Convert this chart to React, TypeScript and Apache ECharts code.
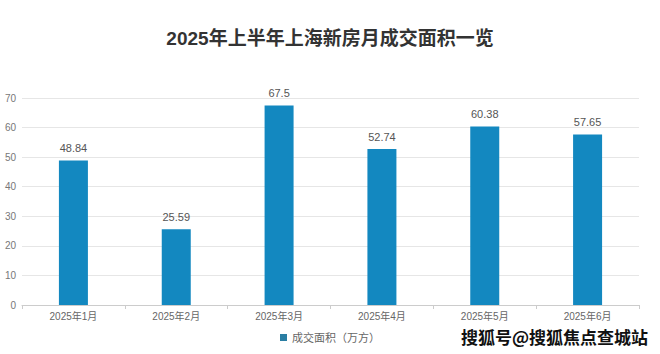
import React, { useEffect, useRef } from "react";
import * as echarts from "echarts";

const categories = ["2025年1月", "2025年2月", "2025年3月", "2025年4月", "2025年5月", "2025年6月"];
const seriesName = "成交面积（万方）";
const values = [48.84, 25.59, 67.5, 52.74, 60.38, 57.65];
const titleText = "2025年上半年上海新房月成交面积一览";
const watermark = "搜狐号@搜狐焦点查城站";

const labelFont = "'Liberation Sans', 'Noto Sans CJK SC', sans-serif";

export default function App() {
  const ref = useRef<HTMLDivElement>(null);
  useEffect(() => {
    if (!ref.current) return;
    const chart = echarts.init(ref.current, null, { renderer: "svg" });
    chart.setOption({
      animation: false,
      backgroundColor: "#ffffff",
      textStyle: { fontFamily: "'Noto Sans CJK SC', 'Noto Sans', sans-serif" },
      title: {
        text: titleText,
        left: "center",
        top: 24,
        textStyle: {
          fontSize: 19,
          fontWeight: "bold",
          color: "#333333",
          fontFamily: "'Liberation Sans', 'Noto Sans CJK SC', sans-serif",
        },
      },
      grid: { left: 22, right: 21, top: 98, bottom: 49, containLabel: false },
      legend: {
        data: [seriesName],
        bottom: 6,
        left: "center",
        icon: "rect",
        itemWidth: 7,
        itemHeight: 7,
        itemGap: 4,
        textStyle: { fontSize: 11, color: "#666666", fontFamily: labelFont },
        itemStyle: { color: "#2a7ea3" },
      },
      xAxis: {
        type: "category",
        data: categories,
        axisLine: { lineStyle: { color: "#cccccc" } },
        axisTick: { show: true, lineStyle: { color: "#cccccc" }, length: 4 },
        axisLabel: { fontSize: 10, color: "#666666", margin: 6, fontFamily: labelFont },
      },
      yAxis: {
        type: "value",
        min: 0,
        max: 70,
        interval: 10,
        axisLine: { show: false },
        axisTick: { show: false },
        axisLabel: { fontSize: 10, color: "#777777", margin: 6, fontFamily: labelFont },
        splitLine: { lineStyle: { color: "#e6e6e6" } },
      },
      series: [
        {
          name: seriesName,
          type: "bar",
          data: values,
          barWidth: 29,
          itemStyle: { color: "#1388c0" },
          label: {
            show: true,
            position: "top",
            fontSize: 11,
            color: "#555555",
            distance: 7,
            fontFamily: labelFont,
          },
        },
      ],
      graphic: [
        {
          type: "text",
          right: 11,
          bottom: 8,
          style: {
            text: watermark,
            fontSize: 17,
            fontWeight: "bold",
            fill: "#111111",
            stroke: "#ffffff",
            lineWidth: 2,
            fontFamily: "'Noto Sans CJK SC', sans-serif",
          },
        },
      ],
    });
    return () => chart.dispose();
  }, []);
  return <div ref={ref} style={{ width: 660, height: 354, position: "absolute", left: 0, top: 0 }} />;
}
